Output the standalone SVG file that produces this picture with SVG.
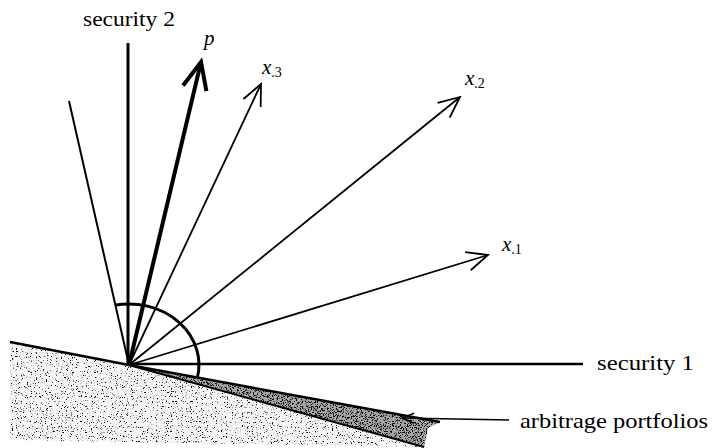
<svg xmlns="http://www.w3.org/2000/svg" width="712" height="448" viewBox="0 0 712 448">
<style>
.ln{stroke:#000;fill:none;stroke-linecap:butt}
.vec{stroke:#000;stroke-width:1.8;fill:none;marker-end:url(#ah)}
.lbl{font-family:"Liberation Serif","Times New Roman",serif;font-size:21px;fill:#000}
.it{font-style:italic}
.sub{font-size:14px}
</style>
<defs>
<marker id="ah" markerUnits="userSpaceOnUse" markerWidth="40" markerHeight="40" refX="0" refY="0" orient="auto" overflow="visible">
<path d="M-21,-9.5 L0,0 L-21,9.5" fill="none" stroke="#000" stroke-width="1.8"/>
</marker>
<marker id="ahp" markerUnits="userSpaceOnUse" markerWidth="60" markerHeight="60" refX="0" refY="0" orient="auto" overflow="visible">
<path d="M-27,-12 L0,0 L-27,12" fill="none" stroke="#000" stroke-width="4"/>
</marker>
<marker id="ahs" markerUnits="userSpaceOnUse" markerWidth="30" markerHeight="30" refX="0" refY="0" orient="auto" overflow="visible">
<path d="M-12,-5 L0,0 L-12,5" fill="none" stroke="#000" stroke-width="1.5"/>
</marker>
<filter id="light" x="0" y="0" width="100%" height="100%" color-interpolation-filters="sRGB">
<feTurbulence type="fractalNoise" baseFrequency="0.8" numOctaves="2" seed="4" result="n"/>
<feColorMatrix in="n" type="matrix" values="0 0 0 0 0  0 0 0 0 0  0 0 0 0 0  -8 0 0 0 3.05" result="d"/>
<feComposite in="d" in2="SourceGraphic" operator="in"/>
</filter>
<filter id="dark" x="0" y="0" width="100%" height="100%" color-interpolation-filters="sRGB">
<feTurbulence type="fractalNoise" baseFrequency="0.8" numOctaves="2" seed="9" result="n"/>
<feColorMatrix in="n" type="matrix" values="0 0 0 0 0  0 0 0 0 0  0 0 0 0 0  -8 0 0 0 3.9" result="d"/>
<feComposite in="d" in2="SourceGraphic" operator="in"/>
</filter>
</defs>
<rect width="712" height="448" fill="#fff"/>

<g id="ground">
<polygon points="10,343 129,365 424,447 10,440" fill="#f5f5f5"/>
<polygon points="10,343 129,365 424,447 10,440" fill="#000" filter="url(#light)"/>
</g>
<g id="arbitrage-wedge">
<polygon points="129,365 440,422 428,428 424,447" fill="#a8a8a8"/>
<polygon points="129,365 440,422 428,428 424,447" fill="#000" filter="url(#dark)"/>
<polyline class="ln" points="10,342 129,365 440,422" stroke-width="2.5"/>
<polyline class="ln" points="129,365 424,447" stroke-width="2"/>
</g>

<g id="axes">
<line id="security2-axis" class="ln" x1="128" y1="43" x2="128" y2="366" stroke-width="3"/>
<line id="security1-axis" class="ln" x1="128" y1="364" x2="583" y2="364" stroke-width="2.5"/>
<line id="normal-line" class="ln" x1="69" y1="101" x2="129" y2="365" stroke-width="2"/>
<path id="arc" class="ln" d="M115.4,305.1 A70,61 0 0 1 197.3,378.2" stroke-width="3"/>
</g>

<g id="connectors">
<line id="vec-p" x1="129" y1="365" x2="201" y2="62" stroke="#000" stroke-width="4" marker-end="url(#ahp)"/>
<line id="vec-x3" class="vec" x1="129" y1="365" x2="261" y2="84"/>
<line id="vec-x2" class="vec" x1="129" y1="365" x2="460" y2="97"/>
<line id="vec-x1" class="vec" x1="129" y1="365" x2="488" y2="255"/>
<line id="arb-pointer" x1="509" y1="420" x2="402" y2="418" stroke="#000" stroke-width="1.6" marker-end="url(#ahs)"/>
</g>

<g id="labels">
<text id="t-sec2" class="lbl" x="83" y="26" textLength="92" lengthAdjust="spacingAndGlyphs">security 2</text>
<text id="t-sec1" class="lbl" x="597" y="370" textLength="97" lengthAdjust="spacingAndGlyphs">security 1</text>
<text id="t-arb" class="lbl" x="520" y="428" textLength="188" lengthAdjust="spacingAndGlyphs">arbitrage portfolios</text>
<text id="t-p" class="lbl it" x="204" y="45" font-size="22">p</text>
<text id="t-x3" class="lbl" x="262" y="74"><tspan class="it">x</tspan><tspan class="sub" dy="3">.3</tspan></text>
<text id="t-x2" class="lbl" x="465" y="85"><tspan class="it">x</tspan><tspan class="sub" dy="3">.2</tspan></text>
<text id="t-x1" class="lbl" x="502" y="251"><tspan class="it">x</tspan><tspan class="sub" dy="3">.1</tspan></text>
</g>
</svg>
